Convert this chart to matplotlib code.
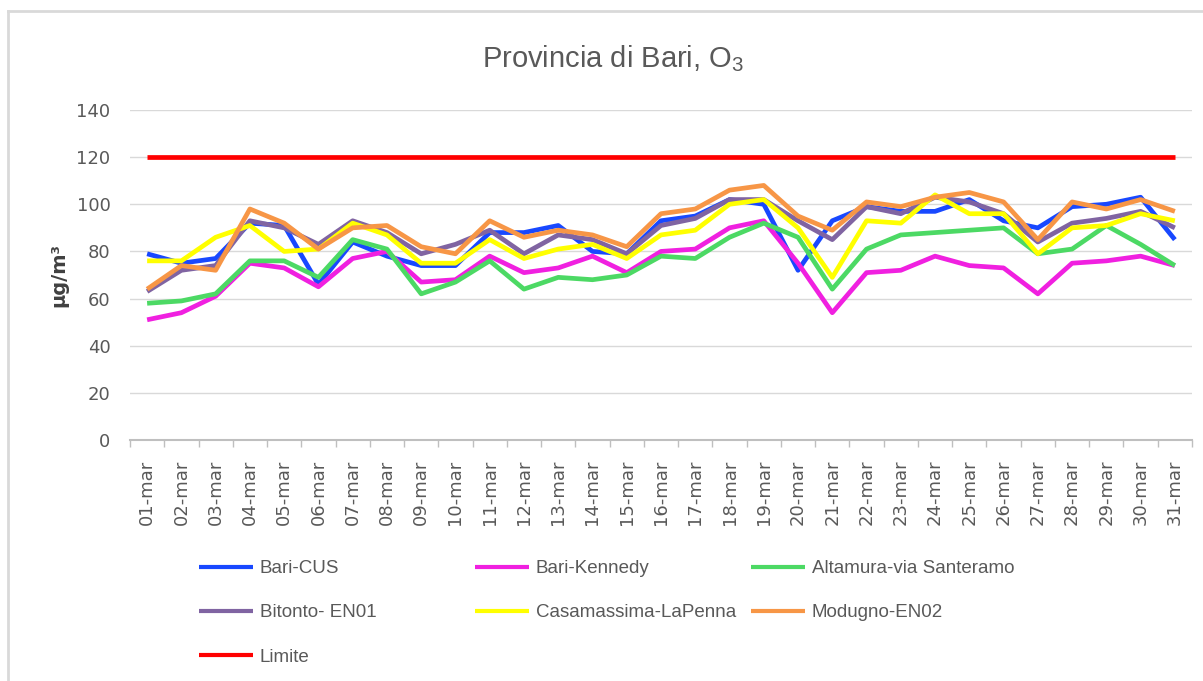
import matplotlib
matplotlib.use("Agg")
import matplotlib.pyplot as plt
from matplotlib.lines import Line2D

# Dati O3 marzo, provincia di Bari (ug/m3)
days = ['%02d-mar' % d for d in range(1, 32)]

bari_cus = [79, 75, 77, 92, 91, 66, 84, 78, 74, 74, 88, 88, 91, 80, 79, 93,
            95, 102, 100, 72, 93, 99, 97, 97, 102, 93, 90, 99, 100, 103, 85]
bari_kennedy = [51, 54, 61, 75, 73, 65, 77, 80, 67, 68, 78, 71, 73, 78, 71, 80,
                81, 90, 93, 75, 54, 71, 72, 78, 74, 73, 62, 75, 76, 78, 74]
altamura = [58, 59, 62, 76, 76, 69, 85, 81, 62, 67, 76, 64, 69, 68, 70, 78,
            77, 86, 92, 86, 64, 81, 87, 88, 89, 90, 79, 81, 91, 83, 74]
bitonto = [63, 72, 74, 93, 90, 83, 93, 88, 79, 83, 89, 79, 87, 85, 79, 91,
           94, 102, 102, 93, 85, 99, 96, 103, 101, 96, 84, 92, 94, 97, 90]
casamassima = [76, 76, 86, 91, 80, 81, 92, 87, 75, 75, 85, 77, 81, 83, 77, 87,
               89, 100, 102, 90, 69, 93, 92, 104, 96, 96, 79, 90, 91, 96, 93]
modugno = [64, 74, 72, 98, 92, 81, 90, 91, 82, 79, 93, 86, 89, 87, 82, 96,
           98, 106, 108, 95, 89, 101, 99, 103, 105, 101, 85, 101, 98, 102, 97]
limite = [120] * 31

series = [
    ('Bari-CUS', bari_cus, '#1848FF'),
    ('Bari-Kennedy', bari_kennedy, '#F020E0'),
    ('Altamura-via Santeramo', altamura, '#4CD964'),
    ('Bitonto- EN01', bitonto, '#8064A2'),
    ('Casamassima-LaPenna', casamassima, '#FFFF00'),
    ('Modugno-EN02', modugno, '#F79646'),
    ('Limite', limite, '#FF0000'),
]

plt.rcParams['font.family'] = ['DejaVu Sans']
plt.rcParams['mathtext.fontset'] = 'custom'
plt.rcParams['mathtext.rm'] = 'Liberation Sans'

fig = plt.figure(figsize=(12.03, 6.81), dpi=100)
ax = fig.add_axes([130 / 1203, 1 - 440 / 681, 1062 / 1203, 330 / 681])

x = list(range(len(days)))
handles = {}
for name, vals, col in series:
    ln, = ax.plot(x, vals, color=col, lw=3.4, solid_joinstyle='round',
                  solid_capstyle='butt', label=name)
    handles[name] = ln

ax.set_xlim(-0.5, 30.5)
ax.set_ylim(0, 140)
ax.set_yticks(range(0, 141, 20))
ax.yaxis.grid(True, color='#d9d9d9', lw=1)
ax.set_axisbelow(True)
for s in ['top', 'right', 'left']:
    ax.spines[s].set_visible(False)
ax.spines['bottom'].set_color('#bfbfbf')
ax.spines['bottom'].set_linewidth(1.5)

ax.set_xticks(x)
ax.set_xticks([i - 0.5 for i in range(len(days) + 1)], minor=True)
ax.tick_params(axis='x', which='major', length=0, pad=14)
ax.tick_params(axis='x', which='minor', length=5, color='#bfbfbf', width=1)
ax.tick_params(axis='y', length=0, pad=14, labelsize=13, labelcolor='#595959')
ax.set_xticklabels(days, rotation=90, fontsize=13, color='#595959')

ax.set_ylabel('µg/m³', fontsize=14, fontweight='bold', color='#404040')
ax.yaxis.set_label_coords((68 - 130) / 1062, 0.5)

fig.text(613 / 1203, 1 - 67 / 681, 'Provincia di Bari, O$_{\\mathregular{3}}$',
         ha='center', va='baseline', fontsize=21, color='#595959',
         family=['Liberation Sans', 'DejaVu Sans'])

# legenda a tre colonne, disposta per righe come in Excel
cols = [['Bari-CUS', 'Bitonto- EN01', 'Limite'],
        ['Bari-Kennedy', 'Casamassima-LaPenna'],
        ['Altamura-via Santeramo', 'Modugno-EN02']]
col_x = [199, 475, 751]
for names, cx in zip(cols, col_x):
    leg = fig.legend([handles[n] for n in names], names, loc='upper left',
                     bbox_to_anchor=(cx / 1203, 1 - 560 / 681),
                     frameon=False, borderpad=0, borderaxespad=0,
                     handlelength=2.9, handletextpad=0.35, labelspacing=1.45,
                     prop={'family': ['Liberation Sans', 'DejaVu Sans'],
                           'size': 13.5})
    for t in leg.get_texts():
        t.set_color('#595959')
    for h in leg.legend_handles:
        h.set_linewidth(3)

# cornice grigia del grafico
fig.add_artist(Line2D([8 / 1203, 8 / 1203], [0, 1 - 11 / 681],
                      transform=fig.transFigure, color='#d9d9d9', lw=2))
fig.add_artist(Line2D([8 / 1203, 1], [1 - 11 / 681, 1 - 11 / 681],
                      transform=fig.transFigure, color='#d9d9d9', lw=2))

fig.savefig('out.png', dpi=100)
